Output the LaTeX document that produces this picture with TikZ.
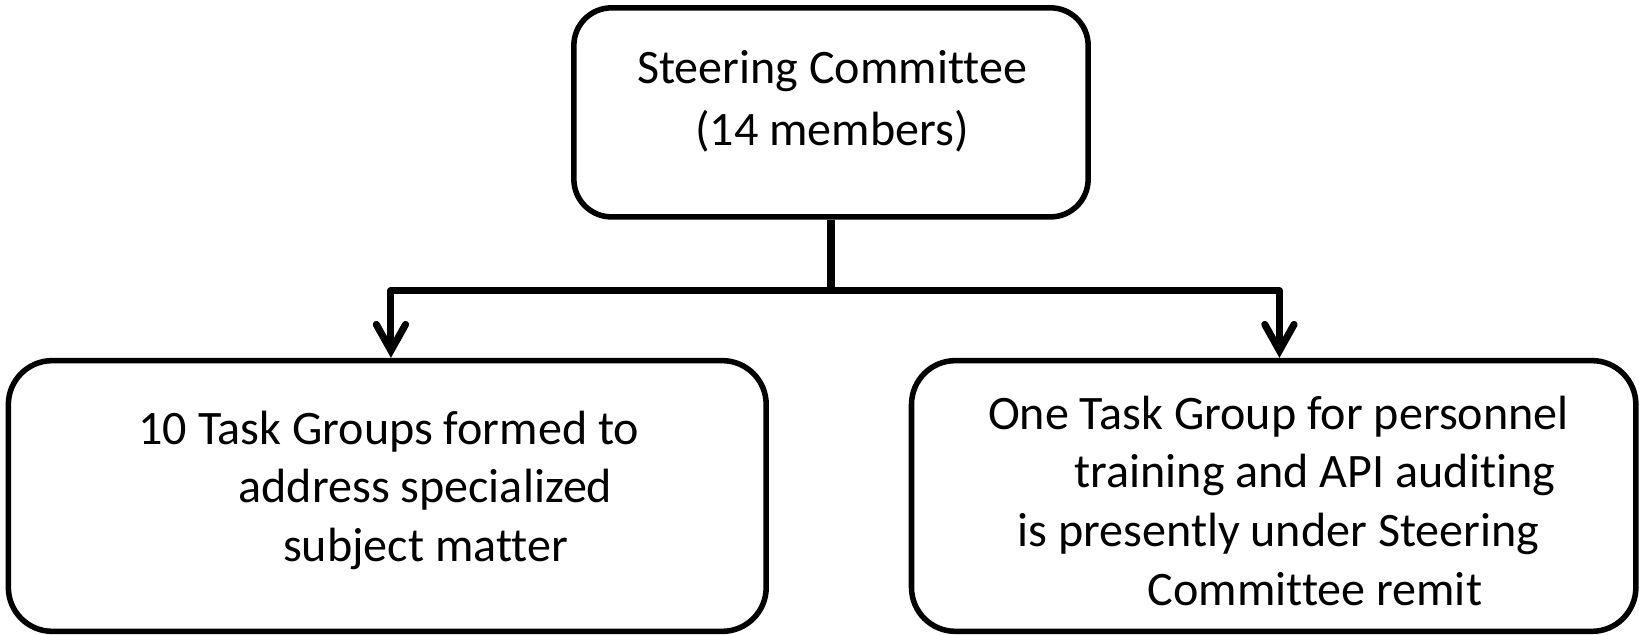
\documentclass[tikz,border=0pt]{standalone}
\usepackage{fontspec}
\setmainfont[Ligatures=NoCommon]{Carlito}
\usetikzlibrary{arrows.meta}
\begin{document}
\begin{tikzpicture}[x=1pt,y=1pt,
  box/.style={draw=black, line width=5.3pt, rounded corners=42pt, fill=white, inner sep=0pt},
  label/.style={align=center, font=\fontsize{46}{56}\selectfont, inner sep=0pt},
  conn/.style={draw=black, line width=6.8pt, line join=round},
  arr/.style={conn, -{Straight Barb[length=25pt,width=28pt,line width=6.8pt,line cap=round]}}]
\useasboundingbox (0,0) rectangle (1568,-607);
\node[box, minimum width=492pt, minimum height=200pt, rounded corners=36pt] (top) at (795,-107.5) {};
\node[box, minimum width=725pt, minimum height=259pt] (left) at (370.5,-474.5) {};
\node[box, minimum width=693pt, minimum height=259pt] (right) at (1218.5,-474.5) {};
\node[label, font=\fontsize{46}{60}\selectfont] (toptext) at (796,-97) {Steering Committee\\(14 members)};
\node[label] (lefttext) at (372,-469) {10 Task Groups formed to\\\hspace*{70pt}address specialized\\\hspace*{70pt}subject matter};
\node[label] (righttext) at (1223,-479) {One Task Group for personnel\\\hspace*{70pt}training and API auditing\\is presently under Steering\\\hspace*{70pt}Committee remit};
\coordinate (j) at ([yshift=-68pt]top.south);
\coordinate (la) at ([xshift=3.5pt]left.north);
\coordinate (ra) at ([xshift=5.5pt]right.north);
\draw[conn] (top.south) -- (j);
\draw[arr] (j) -| (la);
\draw[arr] (j) -| (ra);
\end{tikzpicture}
\end{document}
